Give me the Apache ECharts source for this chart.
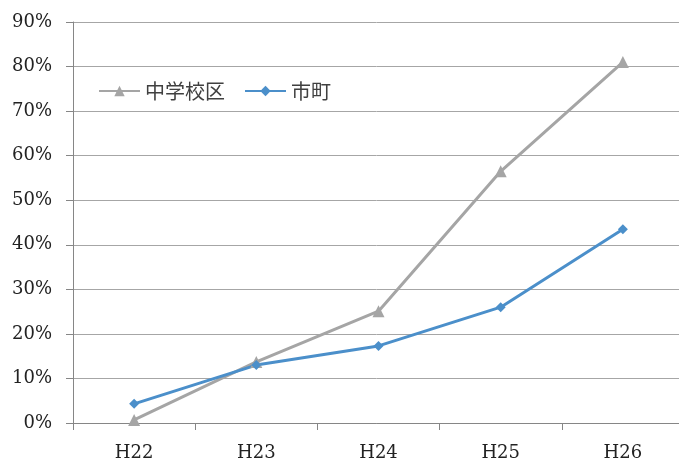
<!DOCTYPE html>
<html>
<head>
<meta charset="utf-8">
<script src="https://cdn.jsdelivr.net/npm/echarts@6/dist/echarts.min.js"></script>
<style>
  html, body { margin: 0; padding: 0; background: #fff; }
  #chart { width: 679px; height: 460px; }
</style>
</head>
<body>
<div id="chart"></div>
<script>
// 年度
var years = ['H22', 'H23', 'H24', 'H25', 'H26']
// 中学校区 (%)
var schoolArea = [0.7, 13.7, 25.1, 56.5, 81.0]
// 市町 (%)
var cityTown = [4.3, 13.0, 17.3, 26.0, 43.5]

var serifFont = '"DejaVu Serif", "Liberation Serif", serif'

var chart = echarts.init(document.getElementById('chart'))
var option = {
  animation: false,
  grid: {
    left: 73,
    width: 611,
    top: 22,
    bottom: 37,
    outerBoundsMode: 'none'
  },
  legend: {
    left: 93,
    top: 76,
    itemWidth: 41,
    itemHeight: 13,
    itemGap: 19,
    textStyle: {
      color: '#404040',
      fontSize: 20,
      fontFamily: '"Noto Sans CJK JP", sans-serif'
    },
    data: ['中学校区', '市町']
  },
  xAxis: {
    type: 'category',
    data: years,
    axisLine: { lineStyle: { color: '#868686', width: 1 } },
    axisTick: { show: true, length: 7, lineStyle: { color: '#868686' } },
    axisLabel: {
      color: '#222',
      fontSize: 18,
      fontFamily: serifFont,
      margin: 21
    }
  },
  yAxis: {
    type: 'value',
    min: 0,
    max: 90,
    interval: 10,
    axisLine: { show: true, lineStyle: { color: '#868686', width: 1 } },
    axisTick: { show: true, length: 7, lineStyle: { color: '#868686' } },
    splitLine: { lineStyle: { color: '#a6a6a6', width: 1 } },
    axisLabel: {
      color: '#222',
      fontSize: 18,
      fontFamily: serifFont,
      margin: 21,
      formatter: '{value}%'
    }
  },
  series: [
    {
      name: '中学校区',
      type: 'line',
      data: schoolArea,
      symbol: 'triangle',
      symbolSize: 12,
      lineStyle: { color: '#a5a5a5', width: 3 },
      itemStyle: { color: '#a5a5a5' }
    },
    {
      name: '市町',
      type: 'line',
      data: cityTown,
      symbol: 'diamond',
      symbolSize: 10,
      lineStyle: { color: '#4b8fca', width: 3 },
      itemStyle: { color: '#4b8fca' }
    }
  ]
}
chart.setOption(option)
</script>
</body>
</html>
